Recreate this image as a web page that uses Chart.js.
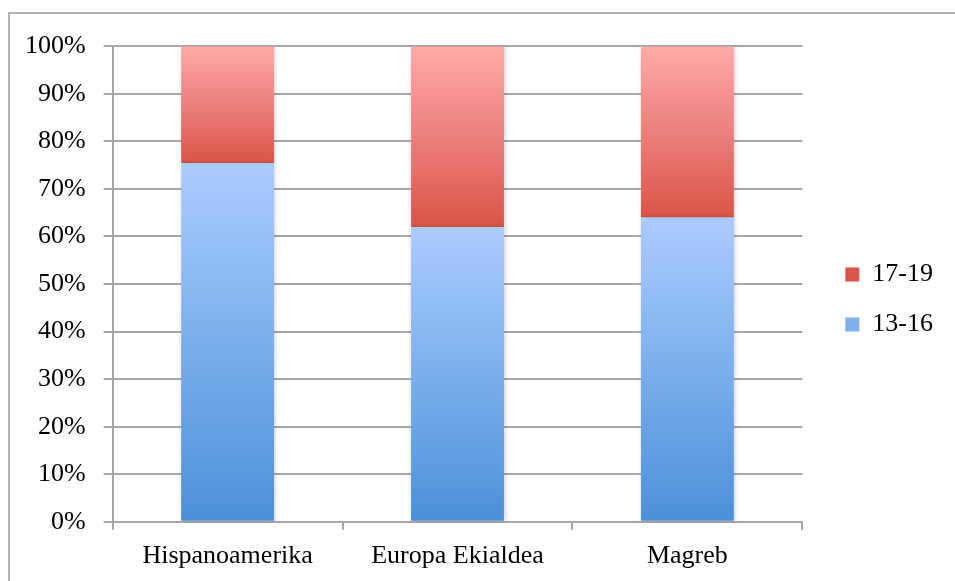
<!DOCTYPE html>
<html>
<head>
<meta charset="utf-8">
<script src="https://cdn.jsdelivr.net/npm/chart.js@4/dist/chart.umd.min.js"></script>
<style>
  html, body { margin: 0; padding: 0; background: #fff; }
  #wrap { position: relative; width: 955px; height: 581px; overflow: hidden; }
  #frame { position: absolute; left: 8px; top: 12px; width: 960px; height: 600px;
           border-top: 2px solid #b0b0b0; border-left: 2px solid #b0b0b0; box-sizing: border-box; }
  canvas { position: absolute; left: 0; top: 0; }
</style>
</head>
<body>
<div id="wrap">
  <div id="frame"></div>
  <canvas id="chart" width="955" height="581"></canvas>
</div>
<script>
const categories = ["Hispanoamerika", "Europa Ekialdea", "Magreb"];
const serie1316 = [75.4, 62.0, 64.0];
const serie1719 = [24.6, 38.0, 36.0];
const yTicks = [0, 10, 20, 30, 40, 50, 60, 70, 80, 90, 100];

const FONT = "'Liberation Serif', 'Times New Roman', serif";
const GRID = "#a6a6a6";

// gradient from bottom to top of each stacked segment
function segmentGradient(ctx, bottomColor, topColor, fallback) {
  const chart = ctx.chart;
  const y = chart.scales && chart.scales.y;
  if (ctx.dataIndex === undefined || !y || !chart.chartArea) return fallback;
  let lo = 0;
  if (ctx.datasetIndex === 1) lo = serie1316[ctx.dataIndex];
  const hi = lo + (ctx.datasetIndex === 1 ? serie1719[ctx.dataIndex] : serie1316[ctx.dataIndex]);
  const g = chart.ctx.createLinearGradient(0, y.getPixelForValue(lo), 0, y.getPixelForValue(hi));
  g.addColorStop(0, bottomColor);
  g.addColorStop(1, topColor);
  return g;
}

const barShadow = {
  id: "barShadow",
  beforeDatasetDraw(chart) {
    const c = chart.ctx;
    c.save();
    c.shadowColor = "rgba(0,0,0,0.22)";
    c.shadowBlur = 5;
    c.shadowOffsetX = 1;
    c.shadowOffsetY = 0;
  },
  afterDatasetDraw(chart) {
    chart.ctx.restore();
  }
};

new Chart(document.getElementById("chart"), {
  type: "bar",
  data: {
    labels: categories,
    datasets: [
      {
        label: "13-16",
        data: serie1316,
        backgroundColor: (ctx) => segmentGradient(ctx, "#4b90d9", "#abccff", "#7fb0ec"),
        borderWidth: 0
      },
      {
        label: "17-19",
        data: serie1719,
        backgroundColor: (ctx) => segmentGradient(ctx, "#d9554a", "#ffaaaa", "#ee8580"),
        borderWidth: 0
      }
    ]
  },
  options: {
    responsive: false,
    animation: false,
    devicePixelRatio: 1,
    layout: { padding: { top: 16, left: 7, bottom: -2, right: 12 } },
    datasets: { bar: { categoryPercentage: 1, barPercentage: 0.404 } },
    plugins: {
      // empty title only pushes the plot down, legend keeps full height
      title: {
        display: true,
        text: " ",
        fullSize: false,
        font: { size: 1 },
        padding: { top: 0, bottom: 29 }
      },
      legend: {
        position: "right",
        reverse: true,
        labels: {
          boxWidth: 14,
          boxHeight: 14,
          padding: 24,
          color: "#000",
          font: { family: FONT, size: 26 }
        }
      },
      tooltip: { enabled: false }
    },
    scales: {
      x: {
        stacked: true,
        grid: { display: true, drawOnChartArea: false, offset: true, color: GRID, tickLength: 8, lineWidth: 2 },
        border: { display: true, color: GRID, width: 2 },
        ticks: { color: "#000", padding: 11, font: { family: FONT, size: 26 } }
      },
      y: {
        stacked: true,
        min: 0,
        max: 100,
        afterBuildTicks: (axis) => { axis.ticks = yTicks.map(v => ({ value: v })); },
        grid: { color: GRID, tickLength: 9, lineWidth: 2 },
        border: { display: true, color: GRID, width: 2 },
        ticks: {
          color: "#000",
          padding: 18,
          font: { family: FONT, size: 26 },
          callback: (v) => v + "%"
        }
      },
      gap: {
        position: "right",
        display: true,
        grid: { display: false },
        border: { display: false },
        ticks: { display: false },
        afterFit: (s) => { s.width = 19; }
      }
    }
  },
  plugins: [barShadow]
});
</script>
</body>
</html>
